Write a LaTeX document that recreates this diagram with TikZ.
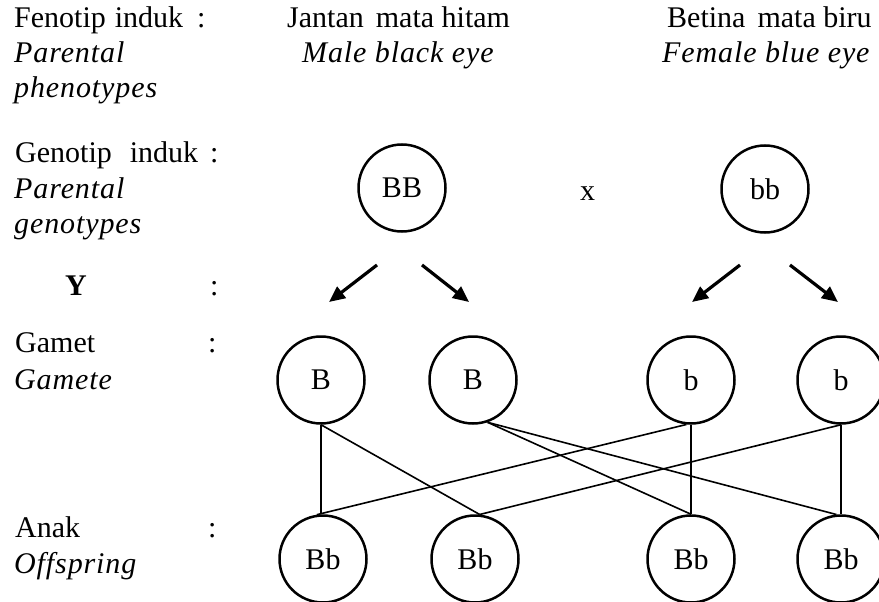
\documentclass[tikz,border=0pt]{standalone}
\usepackage{fontspec}
\setmainfont{Liberation Serif}[ItalicFeatures={LetterSpace=3}]
\usetikzlibrary{arrows.meta}
\begin{document}
\begin{tikzpicture}[x=1pt,y=-1pt,
  txt/.style={anchor=base west, inner sep=0pt, font=\fontsize{30}{36}\selectfont},
  itxt/.style={txt, font=\fontsize{30}{36}\selectfont\itshape},
  allele/.style={circle, draw, line width=2.5pt, minimum size=87pt, inner sep=0pt,
                 font=\fontsize{30}{36}\selectfont},
  cross/.style={line width=1.6pt},
  split/.style={line width=3.2pt, -{Triangle[length=16pt,width=14pt]}}]
\useasboundingbox (0,0) rectangle (879,602);

% row labels (Indonesian / English)
\node[txt]  (fen)    at (14,28)  {Fenotip\hspace{9pt}induk};
\node[txt]  (fenc)   at (197,28) {:};
\node[itxt] (fenen1) at (14,63)  {Parental};
\node[itxt] (fenen2) at (14,98)  {phenotypes};

\node[txt]  (gen)    at (15,162) {Genotip\hspace{18pt}induk};
\node[txt]  (genc)   at (210,162) {:};
\node[itxt] (genen1) at (14,198) {Parental};
\node[itxt] (genen2) at (14,233) {genotypes};

\node[txt, font=\fontsize{30}{36}\selectfont\bfseries] (y) at (65,295) {Y};
\node[txt]  (yc)     at (210,295) {:};

\node[txt]  (gam)    at (15,352) {Gamet};
\node[txt]  (gamc)   at (208,352) {:};
\node[itxt] (gamen)  at (14,389) {Gamete};

\node[txt]  (anak)   at (15,537) {Anak};
\node[txt]  (anakc)  at (208,537) {:};
\node[itxt] (anaken) at (14,573) {Offspring};

% parental phenotypes
\node[txt]  (male)   at (287,28) {Jantan\hspace{12pt}mata hitam};
\node[itxt] (maleen) at (302,63) {Male black eye};
\node[txt]  (fem)    at (667,28) {Betina\hspace{12pt}mata biru};
\node[itxt] (femen)  at (662,63) {Female blue eye};

% parents
\node[allele] (P1) at (402,188) {BB};
\node[txt]    (x)  at (580,200) {x};
\node[allele] (P2) at (765,189) {bb};

% gametes
\node[allele] (G1) at (321,380) {B};
\node[allele] (G2) at (473,380) {B};
\node[allele] (G3) at (691,380) {b};
\node[allele] (G4) at (841,380) {b};

% offspring
\node[allele] (O1) at (323,559) {Bb};
\node[allele] (O2) at (475,559) {Bb};
\node[allele] (O3) at (691,559) {Bb};
\node[allele] (O4) at (841,559) {Bb};

% segregation arrows
\coordinate (a1s) at (377,265); \coordinate (a1e) at (329,302);
\coordinate (a2s) at (422,265); \coordinate (a2e) at (469,302);
\coordinate (a3s) at (740,265); \coordinate (a3e) at (692,302);
\coordinate (a4s) at (790,265); \coordinate (a4e) at (838,302);
\draw[split] (a1s) -- (a1e);
\draw[split] (a2s) -- (a2e);
\draw[split] (a3s) -- (a3e);
\draw[split] (a4s) -- (a4e);

% fertilisation lines
\draw[cross] (G1.south) -- (G1.south |- O1.north);
\draw[cross] (G1.south) -- (O2.84);
\draw[cross] (G2.-71) -- (O3.north);
\draw[cross] (G2.-71) -- (O4.96);
\draw[cross] (G3.-96) -- (O1.98);
\draw[cross] (G3.south) -- (G3.south |- O3.north);
\draw[cross] (G4.south) -- (O2.84);
\draw[cross] (G4.south) -- (G4.south |- O4.north);
\end{tikzpicture}
\end{document}
